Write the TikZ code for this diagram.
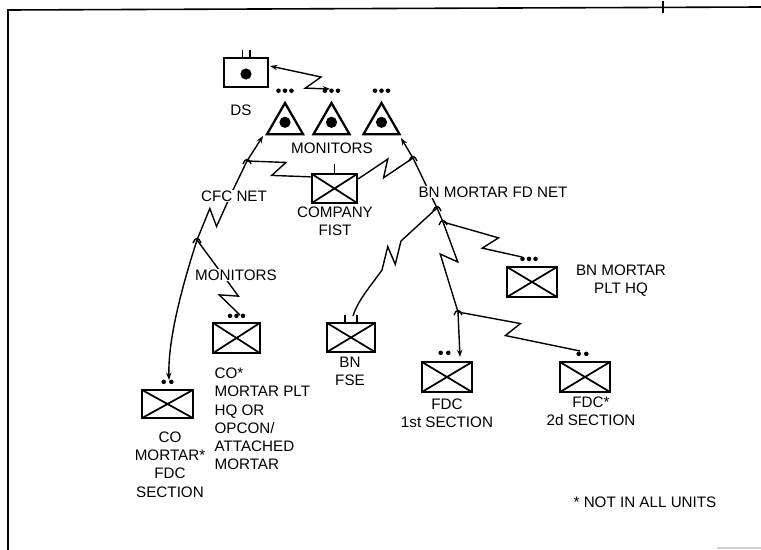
\documentclass[tikz,border=0pt]{standalone}
\usepackage{fontspec}
\setmainfont{Liberation Sans}
\usetikzlibrary{calc,arrows.meta,shapes.geometric}
\newcommand{\threedots}[1]{\foreach \dx in {-6.5,0,6.5} {\fill ($(#1)+(\dx,0)$) circle (1.7pt);}}
\newcommand{\twodots}[1]{\foreach \dx in {-3.8,3.8} {\fill ($(#1)+(\dx,0)$) circle (1.7pt);}}
\newcommand{\junc}[1]{\draw[conn] ($(#1)+(-4,3)$) .. controls ($(#1)+(-2,-3)$) and ($(#1)+(2,-3)$) .. ($(#1)+(4,3)$);}
\begin{document}
\begin{tikzpicture}[x=0.75pt,y=-0.75pt,
  unitbox/.style={draw, line width=1.7pt, minimum width=36pt, minimum height=21.75pt, inner sep=0pt,
     path picture={\draw[line width=1.3pt] (path picture bounding box.north west) -- (path picture bounding box.south east)
        (path picture bounding box.south west) -- (path picture bounding box.north east);}},
  dsbox/.style={draw, line width=1.7pt, minimum width=33pt, minimum height=21.75pt, inner sep=0pt},
  tri/.style={draw, line width=1.7pt, regular polygon, regular polygon sides=3, minimum size=31.2pt, inner sep=0pt},
  lbl/.style={font=\fontsize{11.4}{13.7}\selectfont, inner sep=1pt, align=center},
  net/.style={lbl, fill=white, inner sep=0.5pt},
  conn/.style={line width=1.05pt},
  tip/.style={-{Stealth[length=5.5pt,width=4pt]}},
  bothtip/.style={{Stealth[length=5.5pt,width=4pt]}-{Stealth[length=5.5pt,width=4pt]}},
  bolt/.style={to path={-- ($(\tikztostart)!#1!(\tikztotarget)!4pt!(\tikztotarget)!6pt!90:(\tikztotarget)$)
     -- ($(\tikztostart)!#1!(\tikztotarget)!-4pt!(\tikztotarget)!6pt!-90:(\tikztotarget)$)
     -- (\tikztotarget) \tikztonodes}},
  bolt/.default=0.5
]
\useasboundingbox (0,0) rectangle (761,550);
% frame
\draw[line width=1.2pt] (8,550) -- (8,10) -- (761,7);
\draw[line width=1pt] (663,1) -- (663,13);
\draw[gray!35, line width=0.8pt] (717,548) -- (761,548);

% DS
\node[dsbox] (ds) at (246,72.5) {};
\fill ($(ds.center)+(0,1.5)$) circle (4.2pt);
\draw[line width=1.3pt] ($(ds.north)+(-3.5,0)$) -- ++(0,-7) ($(ds.north)+(4,0)$) -- ++(0,-7);

% monitors triangles
\node[tri] (tri1) at (285,123.8) {};
\node[tri] (tri2) at (331.5,123.8) {};
\node[tri] (tri3) at (381.5,123.8) {};
\foreach \t in {tri1,tri2,tri3} {
  \fill ($(\t.center)+(0,-1.5)$) circle (4.2pt);
  \threedots{$(\t.corner 1)+(0,-10)$}
}

% unit boxes
\node[unitbox, minimum width=34pt] (fist) at (334.5,188.5) {};
\draw[line width=1.3pt] (fist.north) -- ++(0,-9);
\node[unitbox, minimum width=35pt, minimum height=22.5pt] (coplt) at (236.5,338) {};
\threedots{$(coplt.north)+(0,-6)$}
\node[unitbox, minimum width=38pt, minimum height=21pt] (cofdc) at (167.5,404) {};
\twodots{$(cofdc.north)+(0,-7)$}
\node[unitbox] (fse) at (351,337.5) {};
\draw[line width=1.3pt] ($(fse.north)+(-6,0)$) -- ++(0,-7) ($(fse.north)+(6,0)$) -- ++(0,-7);
\node[unitbox, minimum width=37.5pt, minimum height=22.5pt] (plthq) at (532,282) {};
\threedots{$(plthq.north)+(-3,-7)$}
\node[unitbox, minimum width=37.5pt, minimum height=22.5pt] (fdc1) at (447,377) {};
\twodots{$(fdc1.north)+(-2.5,-8)$}
\node[unitbox, minimum width=37.5pt, minimum height=22.5pt] (fdc2) at (585,377) {};
\twodots{$(fdc2.north)+(-2.5,-7)$}

% connector points
\coordinate (j1) at (197,240);
\coordinate (j2) at (247,161);
\coordinate (j3) at (413,158);
\coordinate (j4) at (437,208);
\coordinate (j5) at (443,222);
\coordinate (j6) at (458,312);
\coordinate (t1in) at (263,136);
\coordinate (t3in) at (401,138);
\coordinate (dsin) at (270,66);
\coordinate (t2in) at (330,89);
\coordinate (cfcpt) at (233,190);
\coordinate (cofdcin) at (169,380);
\coordinate (fdc1in) at (460,357);
\coordinate (copltin) at (240,315);
\coordinate (plthqin) at (522,257);
\coordinate (fdc2in) at (580,351);
\coordinate (fsein) at (353,316);
\coordinate (b1a) at (401,241);
\coordinate (b1b) at (382,270);
\coordinate (fistl) at ($(fist.north west)+(0,4)$);
\coordinate (fistr) at ($(fist.north east)+(0,6)$);

% connectors
\draw[conn, bothtip] (dsin) to[bolt=0.72] (t2in);
\draw[conn, tip] (j1) to[bolt=0.45] (cfcpt) -- (j2) -- (t1in);
\draw[conn, tip] (j1) .. controls (181,290) and (168,340) .. (cofdcin);
\draw[conn] (j1) to[bolt=0.74] (copltin);
\draw[conn] (fistl) to[bolt=0.5] (j2);
\draw[conn] (fistr) to[bolt=0.5] (j3);
\draw[conn, tip] (j4) -- (j3) -- (t3in);
\draw[conn] (j4) -- (b1a) to[bolt] (b1b) .. controls (370,287) and (358,300) .. (fsein);
\draw[conn] (j5) to[bolt=0.6] (plthqin);
\draw[conn, tip] (j4) -- (j5) to[bolt=0.4] (j6) -- (fdc1in);
\draw[conn] (j6) to[bolt=0.45] (fdc2in);
\foreach \j in {j1,j2,j3,j4,j5,j6} {\junc{\j}}

% labels
\node[lbl] (dsl) at (241,110) {DS};
\node[lbl] (mon1) at (332,148) {MONITORS};
\node[lbl] (fistlab) at (335,221.5) {COMPANY\\FIST};
\node[net] (cfc) at (234,196) {CFC NET};
\node[net] (bnnet) at (493,192) {BN MORTAR FD NET};
\node[net] (mon2) at (236,275) {MONITORS};
\node[lbl] (plthql) at (621,280.5) {BN MORTAR\\PLT HQ};
\node[lbl] (fsel) at (350,371) {BN\\FSE};
\node[lbl] (fdc1l) at (447,413) {FDC\\1st SECTION};
\node[lbl] (fdc2l) at (591,411.5) {FDC*\\2d SECTION};
\node[lbl] (cofdcl) at (170,464.5) {CO\\MORTAR*\\FDC\\SECTION};
\node[lbl, align=left, anchor=west] (copltl) at (213,419) {CO*\\MORTAR PLT\\HQ OR\\OPCON/\\ATTACHED\\MORTAR};
\node[lbl] (note) at (645,502) {* NOT IN ALL UNITS};
\end{tikzpicture}
\end{document}
